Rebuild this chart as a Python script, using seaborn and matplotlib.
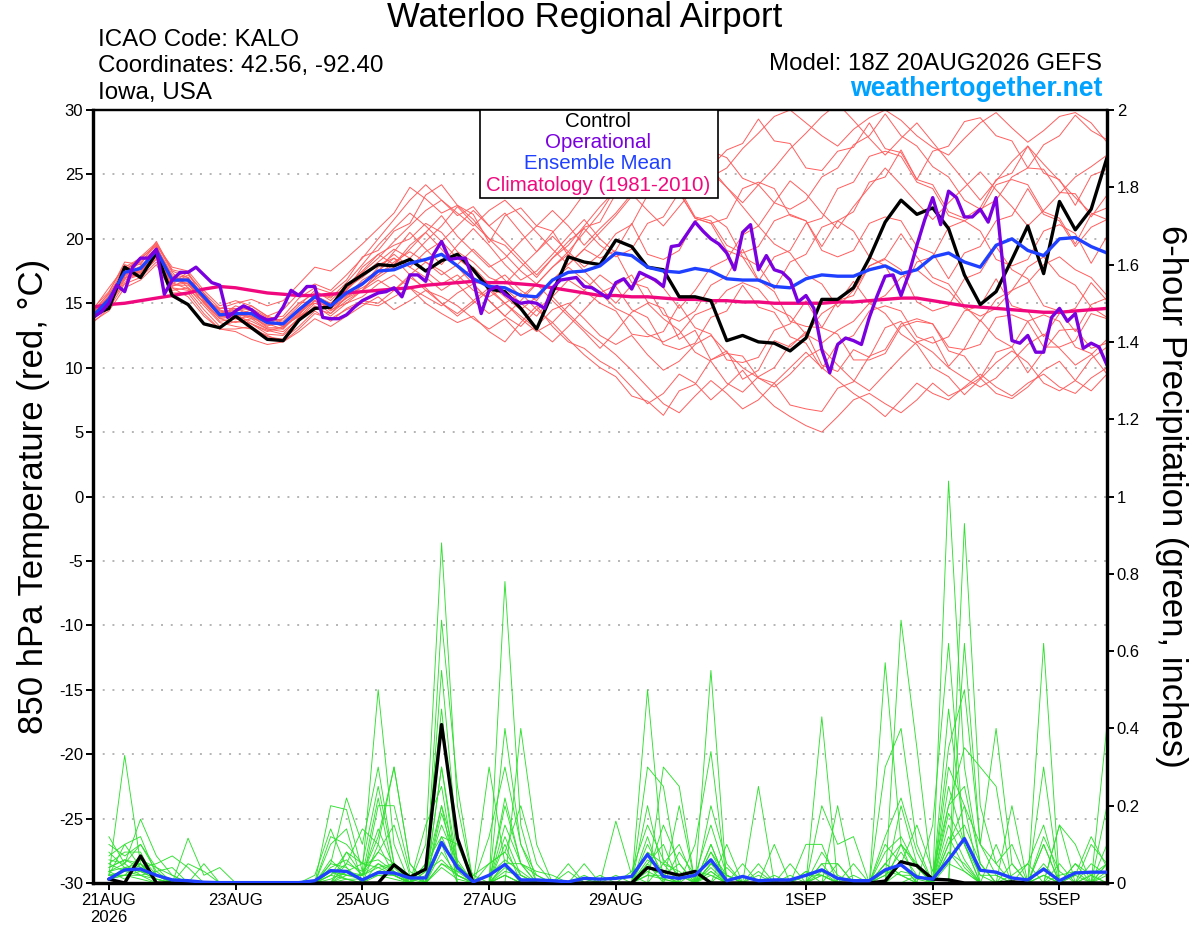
import numpy as np
import pandas as pd
import matplotlib
matplotlib.use("Agg")
import matplotlib.pyplot as plt
import seaborn as sns
from matplotlib.patches import Rectangle
from matplotlib.ticker import FuncFormatter

sns.set_theme(style="ticks")
plt.rcParams["font.family"] = ["Liberation Sans", "DejaVu Sans"]
plt.rcParams["axes.unicode_minus"] = False
plt.rcParams["text.color"] = "black"
plt.rcParams["axes.labelcolor"] = "black"

# ---------------- data ----------------
title = "Waterloo Regional Airport"
info_left = ["ICAO Code: KALO", "Coordinates: 42.56, -92.40", "Iowa, USA"]
info_model = "Model: 18Z 20AUG2026 GEFS"
site = "weathertogether.net"
legend_labels = ["Control", "Operational", "Ensemble Mean", "Climatology (1981-2010)"]

temp_times = pd.date_range("2026-08-20 18:00", periods=65, freq="6h")
oper_times = pd.date_range("2026-08-20 18:00", periods=129, freq="3h")
precip_times = pd.date_range("2026-08-21 00:00", periods=64, freq="6h")

tick_dates = ["2026-08-21", "2026-08-23", "2026-08-25", "2026-08-27",
              "2026-08-29", "2026-09-01", "2026-09-03", "2026-09-05"]
tick_labels = ["21AUG\n2026", "23AUG", "25AUG", "27AUG", "29AUG", "1SEP", "3SEP", "5SEP"]

control_temp = [14.1, 14.6, 17.8, 17.0, 18.9, 15.6, 14.9, 13.4, 13.1, 14.0,
                13.1, 12.2, 12.1, 13.7, 14.6, 14.7, 16.4, 17.2, 18.0, 17.9,
                18.4, 17.5, 18.3, 18.8, 17.6, 16.1, 15.9, 14.6, 13.0, 15.8,
                18.6, 18.2, 18.0, 19.9, 19.4, 17.8, 17.6, 15.5, 15.5, 15.2,
                12.1, 12.5, 12.0, 11.9, 11.3, 12.3, 15.3, 15.3, 16.2, 18.5,
                21.3, 23.0, 21.9, 22.4, 20.8, 17.2, 14.9, 15.9, 18.4, 21.0,
                17.3, 22.9, 20.7, 22.3, 26.3]

mean_temp = [14.0, 15.3, 17.4, 17.7, 19.1, 16.8, 16.8, 15.5, 14.1, 14.2,
             14.2, 13.5, 13.4, 14.5, 15.5, 14.8, 15.8, 16.5, 17.5, 17.6,
             18.1, 18.4, 18.8, 17.9, 16.9, 16.3, 16.2, 15.6, 15.5, 16.8,
             17.4, 17.5, 17.9, 18.9, 18.7, 17.8, 17.5, 17.4, 17.7, 17.5,
             16.9, 16.8, 16.8, 16.3, 16.2, 16.9, 17.2, 17.1, 17.1, 17.6,
             17.9, 17.3, 17.6, 18.6, 18.9, 18.2, 17.8, 19.5, 20.0, 19.1,
             18.7, 20.0, 20.1, 19.4, 18.9]

clim_temp = [14.7, 14.9, 15.0, 15.2, 15.4, 15.6, 15.8, 16.1, 16.3, 16.2,
             16.0, 15.8, 15.7, 15.6, 15.6, 15.7, 15.8, 15.9, 16.0, 16.1,
             16.2, 16.4, 16.5, 16.6, 16.7, 16.6, 16.6, 16.5, 16.4, 16.2,
             16.0, 15.8, 15.6, 15.6, 15.5, 15.5, 15.4, 15.3, 15.3, 15.2,
             15.2, 15.1, 15.1, 15.0, 15.0, 15.0, 15.0, 15.1, 15.1, 15.2,
             15.3, 15.4, 15.4, 15.2, 15.0, 14.8, 14.7, 14.6, 14.5, 14.4,
             14.3, 14.3, 14.4, 14.5, 14.6]

oper_temp = [13.9, 14.3, 15.0, 16.4, 15.9, 17.8, 18.5, 18.5, 19.2, 15.7,
             16.8, 17.4, 17.4, 17.8, 17.2, 16.6, 16.4, 13.9, 14.4, 14.8,
             14.5, 14.0, 13.7, 13.8, 14.7, 16.0, 15.6, 16.3, 16.3, 13.9,
             13.8, 13.8, 14.1, 14.7, 15.2, 15.5, 15.8, 15.9, 16.2, 15.5,
             17.2, 17.2, 16.7, 18.8, 19.8, 18.4, 18.5, 18.5, 16.8, 14.2,
             16.0, 16.3, 15.7, 15.3, 15.0, 15.1, 15.0, 14.6, 16.2, 16.8,
             16.9, 17.0, 16.3, 16.2, 15.8, 15.4, 16.6, 16.9, 16.1, 17.4,
             17.1, 16.8, 16.3, 19.4, 19.5, 20.4, 21.3, 20.6, 20.0, 19.6,
             18.9, 17.6, 20.5, 21.1, 17.6, 18.7, 17.6, 17.4, 16.8, 15.1,
             15.6, 14.6, 11.4, 9.6, 11.8, 12.3, 12.1, 11.8, 13.9, 15.6,
             17.1, 17.2, 15.6, 17.3, 19.5, 21.5, 23.2, 21.1, 23.7, 23.2,
             21.7, 21.7, 22.3, 21.3, 23.2, 17.0, 12.1, 11.9, 12.5, 11.2,
             11.2, 13.9, 14.6, 13.6, 14.2, 11.5, 11.9, 11.6, 10.2]

m01 = [14.3, 15.8, 18.2, 18.0, 19.8, 17.5, 17.0, 15.2, 14.6, 15.0, 15.3, 14.8, 15.2, 16.5, 17.8, 17.5, 18.5,
       19.6, 20.8, 22.0, 24.0, 23.1, 22.0, 22.6, 21.5, 20.0, 19.5, 18.2, 17.0, 18.5, 19.5, 21.0, 22.5,
       23.8, 25.0, 24.6, 26.2, 27.5, 26.0, 24.8, 25.5, 27.0, 28.2, 29.5, 30.0, 29.0, 28.0, 27.2, 28.5,
       29.4, 30.0, 29.2, 28.0, 27.1, 26.5, 27.8, 29.0, 29.8, 28.6, 27.5, 28.4, 29.5, 29.8, 29.0, 27.5]
m02 = [13.8, 14.8, 16.8, 17.2, 18.5, 16.0, 16.2, 14.8, 13.5, 13.2, 13.0, 12.5, 12.0, 13.0, 14.2, 13.8, 14.5,
       15.0, 14.8, 15.5, 16.2, 15.0, 14.2, 13.5, 14.0, 12.8, 12.0, 13.5, 14.8, 13.2, 12.0, 11.5, 10.5,
       9.8, 8.5, 7.2, 8.0, 9.5, 8.8, 7.5, 8.6, 9.8, 8.2, 7.0, 6.2, 5.5, 5.0, 6.2, 7.5,
       8.0, 7.2, 6.5, 7.5, 8.8, 7.8, 8.4, 9.2, 8.0, 7.6, 8.5, 9.8, 10.5, 9.0, 8.2, 9.5]
m03 = [14.5, 16.2, 17.8, 18.5, 19.5, 17.8, 17.5, 16.0, 14.8, 15.2, 14.8, 14.0, 14.5, 15.8, 16.5, 16.0, 17.2,
       18.5, 20.0, 21.5, 23.0, 24.2, 23.0, 21.8, 22.5, 21.0, 22.0, 20.5, 19.0, 20.5, 21.8, 23.5, 25.0,
       26.2, 27.5, 28.5, 27.0, 25.5, 26.8, 25.5, 24.0, 22.5, 21.0, 22.8, 24.5, 23.5, 22.0, 20.8, 22.5,
       24.0, 25.5, 24.2, 22.8, 21.5, 22.8, 24.0, 25.2, 23.8, 22.5, 21.0, 22.2, 23.5, 24.8, 25.6, 26.5]
m04 = [13.5, 14.6, 16.5, 17.0, 18.2, 16.2, 15.5, 14.0, 13.0, 12.8, 12.2, 11.8, 12.0, 12.8, 13.8, 13.2, 14.0,
       14.8, 15.5, 14.5, 15.2, 16.0, 15.5, 14.8, 13.8, 13.0, 13.8, 12.5, 13.2, 14.5, 15.0, 13.8, 12.5,
       11.8, 12.5, 11.0, 9.8, 10.5, 11.8, 12.5, 11.2, 10.0, 9.2, 8.5, 9.5, 10.8, 11.5, 10.2, 9.0,
       8.2, 9.5, 10.8, 12.0, 11.2, 10.0, 9.2, 8.5, 9.2, 10.5, 11.8, 12.6, 11.5, 10.2, 11.0, 12.2]
m05 = [14.2, 15.5, 17.0, 17.5, 19.0, 17.0, 16.5, 15.5, 14.5, 14.0, 14.5, 13.8, 13.2, 14.0, 15.8, 15.5, 16.2,
       17.0, 18.0, 18.5, 17.8, 19.0, 19.8, 18.5, 17.5, 16.5, 17.2, 16.0, 15.2, 16.8, 18.0, 19.2, 18.5,
       19.1, 21.2, 18.8, 18.4, 19.1, 21.4, 21.8, 20.9, 18.6, 17.9, 16.1, 18.2, 18.8, 20.9, 21.4, 20.6,
       18.6, 17.9, 15.8, 18.2, 18.6, 20.9, 21.4, 20.6, 18.4, 17.9, 18.4, 20.6, 21.1, 20.4, 18.1, 20.2]
m06 = [13.9, 15.0, 17.6, 18.2, 19.5, 16.5, 17.2, 15.8, 14.2, 14.6, 14.0, 13.2, 13.8, 15.0, 15.2, 14.2, 15.5,
       16.8, 17.5, 19.0, 20.5, 19.2, 18.0, 19.5, 20.8, 19.5, 18.0, 16.8, 17.5, 18.8, 20.2, 21.5, 20.0,
       18.9, 16.6, 16.2, 14.1, 13.6, 14.4, 16.4, 17.1, 19.2, 16.8, 15.9, 13.6, 13.2, 13.1, 15.2, 15.6,
       17.9, 18.4, 17.6, 15.1, 14.4, 14.8, 16.9, 17.4, 19.4, 17.6, 16.9, 14.8, 14.4, 12.8, 14.9, 15.4]
m07 = [14.4, 15.2, 17.2, 17.8, 19.2, 16.8, 16.5, 15.0, 13.8, 13.5, 13.8, 13.0, 12.8, 13.8, 15.0, 14.5, 15.0,
       16.0, 17.2, 18.0, 19.2, 20.5, 21.8, 20.2, 19.0, 17.8, 18.5, 19.8, 21.0, 22.2, 21.0, 19.5, 20.8,
       22.0, 23.5, 22.2, 21.0, 22.5, 24.0, 25.2, 24.0, 22.8, 24.2, 25.5, 27.0, 28.2, 29.5, 30.5, 29.2,
       27.8, 26.5, 27.8, 29.0, 27.5, 26.0, 24.5, 23.0, 24.5, 26.0, 27.2, 25.8, 24.5, 23.2, 22.0, 21.5]
m08 = [13.7, 15.0, 16.9, 17.4, 18.8, 16.2, 16.0, 14.5, 13.2, 13.6, 13.4, 12.6, 12.5, 13.6, 14.8, 14.0, 15.0,
       15.5, 16.5, 17.2, 16.2, 15.5, 14.8, 15.8, 16.5, 15.2, 14.0, 13.2, 14.5, 15.5, 14.2, 13.0, 12.0,
       11.0, 9.8, 8.5, 7.2, 6.5, 7.8, 9.0, 8.0, 6.8, 7.5, 8.8, 10.0, 11.2, 10.0, 9.0, 8.0,
       7.2, 6.2, 7.5, 8.8, 8.0, 7.5, 8.5, 9.5, 8.5, 7.8, 8.8, 9.5, 8.5, 8.0, 9.2, 10.0]
m09 = [14.1, 15.6, 17.9, 17.3, 19.4, 17.2, 17.0, 15.6, 14.4, 14.4, 14.8, 14.0, 13.6, 14.8, 16.0, 15.2, 16.4,
       17.5, 18.8, 19.5, 20.0, 21.2, 20.5, 19.0, 18.2, 17.0, 16.5, 17.8, 19.0, 20.2, 19.0, 17.8, 18.8,
       20.4, 21.1, 23.4, 24.1, 23.6, 21.6, 21.2, 21.6, 23.9, 24.4, 23.9, 21.8, 21.4, 19.4, 21.4, 22.1,
       24.4, 24.8, 26.9, 24.6, 24.2, 22.1, 21.6, 22.4, 24.6, 25.1, 27.2, 25.1, 24.6, 22.6, 24.9, 25.4]
m10 = [14.0, 15.1, 17.1, 17.9, 18.9, 16.6, 17.4, 15.2, 13.8, 14.0, 13.6, 13.0, 13.0, 14.2, 15.2, 14.6, 15.6,
       16.2, 17.0, 17.8, 18.5, 17.5, 16.5, 17.2, 16.0, 15.5, 16.2, 15.0, 14.0, 15.5, 16.8, 16.0, 15.0,
       14.4, 12.6, 12.4, 12.8, 14.9, 13.1, 12.6, 10.6, 10.4, 10.8, 12.9, 13.4, 15.2, 13.1, 12.6, 10.6,
       10.6, 11.1, 13.2, 13.6, 13.4, 11.6, 11.4, 11.8, 13.9, 14.1, 13.6, 11.6, 11.6, 12.1, 14.2, 13.8]
m11 = [14.3, 15.4, 17.6, 18.4, 19.6, 17.4, 16.2, 15.4, 14.0, 14.8, 14.4, 13.6, 13.2, 14.2, 15.6, 15.0, 16.0,
       17.2, 18.2, 19.2, 18.5, 19.8, 21.0, 22.5, 21.2, 20.0, 18.8, 17.5, 16.5, 17.8, 19.0, 20.5, 22.0,
       23.9, 24.5, 26.3, 24.6, 23.9, 21.7, 21.4, 19.5, 18.9, 19.4, 21.4, 21.9, 21.4, 19.1, 18.6, 19.1,
       21.2, 21.7, 21.4, 19.4, 18.9, 16.9, 18.9, 19.4, 21.4, 21.8, 23.9, 21.9, 21.4, 19.4, 20.9, 21.5]
m12 = [13.8, 15.2, 17.3, 17.6, 18.6, 16.4, 16.6, 15.0, 13.6, 13.8, 14.0, 13.4, 13.0, 14.4, 15.4, 14.4, 15.4,
       16.0, 16.8, 16.0, 17.2, 18.2, 17.5, 16.5, 15.2, 14.2, 15.0, 15.8, 14.5, 13.5, 14.8, 16.0, 17.2,
       16.3, 14.5, 13.9, 11.8, 11.4, 11.9, 13.9, 14.4, 16.4, 14.7, 14.3, 12.4, 11.9, 9.9, 11.9, 12.5,
       14.4, 14.8, 14.4, 12.4, 11.9, 12.4, 14.4, 14.8, 16.9, 14.8, 14.4, 12.4, 14.2, 14.6, 16.6, 15.2]
m13 = [14.6, 15.9, 18.0, 17.6, 19.3, 17.0, 16.8, 15.6, 14.2, 14.2, 13.8, 13.6, 13.8, 15.0, 15.8, 15.4, 16.6,
       18.0, 19.5, 20.8, 22.0, 21.0, 19.8, 21.0, 22.2, 21.0, 19.8, 18.5, 17.2, 18.5, 19.8, 20.8, 19.5,
       18.6, 19.2, 21.2, 21.7, 23.6, 21.6, 21.2, 19.1, 18.6, 16.7, 18.6, 19.1, 21.2, 21.6, 23.9, 24.4,
       26.4, 26.8, 26.4, 24.4, 23.9, 21.8, 21.4, 22.1, 24.2, 24.6, 24.2, 22.1, 21.6, 19.6, 21.9, 22.4]
m14 = [13.6, 14.4, 16.2, 16.8, 18.0, 15.8, 15.8, 14.2, 13.0, 13.0, 13.2, 12.4, 12.2, 13.2, 14.4, 13.6, 14.6,
       15.2, 15.0, 16.0, 17.0, 16.2, 15.0, 14.2, 15.2, 16.2, 15.0, 14.0, 13.0, 12.0, 13.2, 14.5, 15.8,
       16.4, 17.2, 15.1, 14.6, 12.2, 12.9, 10.6, 11.3, 9.1, 9.8, 12.1, 11.6, 12.8, 10.2, 9.7, 11.4,
       10.8, 13.1, 13.6, 12.0, 12.4, 10.1, 11.5, 13.7, 12.3, 11.6, 9.6, 11.3, 12.9, 13.0, 11.5, 11.9]
m15 = [14.2, 15.0, 17.0, 17.2, 18.4, 16.4, 16.4, 15.4, 14.0, 13.8, 13.4, 12.8, 13.2, 14.0, 14.6, 14.2, 15.2,
       16.0, 17.5, 18.5, 17.2, 16.0, 15.0, 14.0, 15.0, 16.0, 15.0, 13.8, 12.8, 13.5, 12.2, 11.0, 10.0,
       9.3, 7.8, 7.4, 6.3, 8.2, 8.7, 10.6, 11.1, 10.9, 9.2, 8.8, 7.1, 6.8, 6.6, 8.4, 8.9,
       10.9, 11.4, 13.4, 13.8, 13.4, 11.3, 10.9, 9.2, 11.2, 11.6, 13.6, 14.1, 13.6, 11.6, 11.1, 9.5]
m16 = [14.4, 15.7, 17.5, 18.6, 19.7, 17.6, 17.3, 15.8, 14.6, 14.6, 14.2, 13.8, 14.0, 15.4, 16.2, 15.8, 16.8,
       18.6, 19.1, 20.6, 21.2, 23.4, 24.2, 22.6, 21.9, 19.7, 21.8, 22.4, 21.0, 20.6, 18.7, 20.9, 21.3,
       23.5, 23.9, 25.8, 26.1, 28.3, 26.0, 25.6, 26.9, 27.4, 29.3, 27.6, 27.4, 25.5, 25.3, 26.8, 27.1,
       29.0, 27.0, 26.7, 24.6, 26.8, 27.2, 29.1, 29.4, 28.0, 27.6, 25.5, 25.4, 23.6, 23.5, 21.7, 23.4]
m17 = [14.0, 15.3, 17.7, 17.4, 18.7, 16.9, 16.9, 15.3, 14.3, 14.3, 13.9, 13.3, 13.4, 14.6, 15.0, 14.8, 15.8,
       16.6, 17.2, 18.2, 19.0, 18.2, 17.2, 18.0, 19.2, 18.0, 16.8, 15.5, 16.5, 17.8, 18.8, 17.5, 16.2,
       15.0, 16.4, 17.1, 16.2, 14.6, 16.0, 17.8, 18.4, 20.3, 21.0, 19.6, 18.9, 17.2, 16.5, 14.7, 16.0,
       17.9, 18.5, 20.4, 18.6, 17.0, 16.5, 14.8, 13.6, 15.3, 16.0, 17.8, 18.6, 17.1, 16.4, 14.7, 13.9]
m18 = [14.1, 14.9, 16.6, 17.7, 19.1, 16.3, 16.9, 15.2, 14.4, 14.2, 13.4, 12.9, 12.6, 13.9, 15.2, 15.0, 16.0,
       17.8, 18.8, 18.0, 19.5, 20.5, 19.2, 17.8, 16.5, 15.2, 14.0, 15.2, 16.5, 15.2, 14.0, 12.8, 11.5,
       12.8, 14.3, 15.0, 13.8, 12.9, 11.2, 10.5, 8.8, 8.1, 9.3, 10.0, 11.8, 12.6, 14.2, 15.0, 16.7,
       15.0, 14.2, 12.6, 11.8, 10.0, 9.3, 7.9, 9.1, 10.4, 11.3, 10.4, 8.8, 8.2, 9.0, 10.7, 11.6]
m19 = [14.3, 15.5, 17.4, 18.1, 19.3, 17.1, 16.7, 15.7, 14.1, 14.5, 14.6, 13.9, 13.5, 14.3, 15.6, 14.9, 16.1,
       17.4, 18.5, 19.8, 21.0, 22.2, 23.0, 22.0, 21.0, 22.2, 23.0, 21.8, 20.5, 19.2, 18.0, 19.2, 20.5,
       21.8, 23.3, 24.0, 25.8, 26.5, 28.2, 26.8, 26.3, 24.7, 24.2, 22.8, 22.3, 23.0, 24.8, 25.5, 27.3,
       28.0, 29.7, 28.0, 27.2, 25.6, 24.8, 23.0, 22.3, 23.0, 24.8, 25.5, 27.3, 28.0, 29.6, 28.4, 27.7]
m20 = [13.9, 15.0, 17.2, 17.1, 18.7, 16.6, 16.1, 15.1, 13.9, 14.1, 14.0, 13.1, 13.1, 14.1, 15.4, 14.6, 15.4,
       16.4, 17.8, 18.8, 17.8, 17.0, 16.0, 16.8, 17.8, 16.5, 15.5, 14.5, 15.5, 16.8, 17.8, 16.8, 15.8,
       14.6, 14.0, 12.6, 12.0, 12.6, 14.1, 14.6, 16.0, 16.6, 16.1, 14.6, 14.0, 12.6, 11.9, 12.9, 13.6,
       15.0, 15.6, 17.0, 17.6, 16.6, 16.0, 14.6, 14.0, 14.6, 16.0, 16.6, 18.0, 18.6, 17.6, 17.0, 15.6]
ens_temp = [m01, m02, m03, m04, m05, m06, m07, m08, m09, m10,
            m11, m12, m13, m14, m15, m16, m17, m18, m19, m20]

control_precip = [0.01, 0, 0.07, 0, 0, 0, 0, 0,
                  0, 0, 0, 0, 0, 0, 0, 0,
                  0, 0, 0.047, 0.015, 0.036, 0.41, 0.116, 0,
                  0, 0, 0, 0, 0, 0, 0, 0,
                  0, 0, 0.04, 0.03, 0.02, 0.03, 0, 0,
                  0, 0, 0, 0, 0, 0, 0, 0,
                  0, 0.005, 0.055, 0.045, 0.01, 0.008, 0, 0,
                  0, 0.003, 0, 0, 0, 0, 0, 0]
mean_precip = [0.01, 0.034, 0.036, 0.02, 0.008, 0.006, 0.002, 0.001,
               0.001, 0.001, 0.001, 0.001, 0.001, 0.006, 0.032, 0.03,
               0.008, 0.027, 0.026, 0.013, 0.013, 0.105, 0.04, 0.003,
               0.02, 0.048, 0.008, 0.008, 0.006, 0.003, 0.012, 0.01,
               0.012, 0.017, 0.074, 0.017, 0.012, 0.02, 0.06, 0.006,
               0.017, 0.006, 0.008, 0.008, 0.02, 0.034, 0.012, 0.006,
               0.006, 0.034, 0.047, 0.015, 0.01, 0.06, 0.115, 0.033,
               0.028, 0.013, 0.008, 0.036, 0.006, 0.026, 0.028, 0.028]

p01 = [0.02, 0.33, 0.05, 0, 0, 0, 0, 0, 0, 0, 0, 0, 0, 0, 0.03, 0.01,
       0, 0.05, 0.02, 0, 0.1, 0.88, 0.2, 0, 0, 0.02, 0, 0, 0, 0, 0, 0,
       0, 0, 0.1, 0.02, 0, 0, 0, 0.04, 0, 0, 0, 0, 0, 0.05, 0, 0,
       0, 0, 0.1, 0.04, 0, 1.04, 0.3, 0.05, 0, 0, 0, 0.02, 0, 0, 0, 0]
p02 = [0.12, 0.05, 0.165, 0.07, 0.02, 0, 0, 0, 0, 0, 0, 0, 0, 0, 0.2, 0.19,
       0.03, 0.5, 0.1, 0, 0.05, 0.45, 0.05, 0, 0, 0.78, 0.15, 0, 0, 0, 0, 0.02,
       0, 0, 0.5, 0.05, 0, 0, 0, 0.1, 0, 0, 0, 0, 0.03, 0, 0, 0,
       0, 0, 0, 0, 0, 0, 0.93, 0.2, 0.05, 0, 0, 0, 0, 0, 0, 0]
p03 = [0.07, 0.1, 0.12, 0.02, 0, 0.116, 0.02, 0.04, 0, 0, 0, 0, 0, 0, 0, 0.05,
       0.14, 0.1, 0.3, 0.05, 0, 0.68, 0.25, 0, 0, 0, 0.4, 0.1, 0, 0, 0, 0,
       0, 0, 0, 0.3, 0.25, 0, 0.55, 0, 0, 0, 0, 0, 0, 0.43, 0, 0,
       0, 0, 0, 0.02, 0, 0, 0, 0, 0, 0, 0, 0.62, 0, 0, 0, 0.2]
p04 = [0.05, 0.08, 0.08, 0, 0, 0, 0.05, 0, 0, 0, 0, 0, 0, 0, 0.1, 0.14,
       0, 0.2, 0.2, 0.03, 0, 0.55, 0.1, 0, 0.3, 0.05, 0, 0, 0, 0.05, 0, 0,
       0, 0, 0, 0, 0, 0.1, 0.34, 0, 0, 0, 0, 0, 0, 0, 0.2, 0,
       0, 0.57, 0.1, 0, 0, 0, 0.62, 0.1, 0.4, 0.05, 0, 0, 0, 0, 0, 0]
p05 = [0.04, 0.06, 0.04, 0.05, 0.07, 0.04, 0, 0, 0, 0, 0, 0, 0, 0.02, 0.14, 0.04,
       0, 0.03, 0.05, 0.02, 0, 0.3, 0.05, 0, 0, 0.4, 0.1, 0.02, 0, 0, 0, 0,
       0.16, 0.02, 0, 0, 0.2, 0, 0, 0, 0, 0.25, 0, 0, 0, 0, 0, 0,
       0, 0, 0.68, 0.35, 0, 0, 0, 0, 0, 0.2, 0, 0, 0, 0, 0, 0.41]
p06 = [0.03, 0.04, 0.03, 0.02, 0, 0, 0, 0, 0, 0, 0, 0, 0, 0, 0.05, 0.22,
       0.1, 0.3, 0.05, 0, 0.15, 0.25, 0, 0, 0, 0.15, 0.05, 0, 0, 0.03, 0, 0,
       0, 0, 0.3, 0.25, 0, 0, 0.1, 0, 0, 0, 0.1, 0, 0, 0, 0.05, 0,
       0, 0, 0, 0, 0.15, 0.62, 0.1, 0, 0, 0, 0, 0, 0.15, 0.1, 0, 0]
p07 = [0.02, 0.02, 0.06, 0.04, 0.02, 0, 0, 0, 0, 0, 0, 0, 0, 0, 0, 0.08,
       0.05, 0.25, 0.05, 0, 0, 0.18, 0.05, 0, 0.12, 0.3, 0.1, 0, 0, 0, 0.05, 0,
       0, 0, 0.12, 0, 0, 0, 0.2, 0.05, 0, 0, 0, 0, 0.1, 0.1, 0, 0,
       0, 0.3, 0.4, 0.1, 0, 0.2, 0.35, 0.3, 0.25, 0, 0, 0.1, 0, 0, 0, 0]
p08 = [0.1, 0.07, 0.1, 0.03, 0, 0, 0, 0, 0, 0, 0, 0, 0, 0, 0.03, 0.02,
       0.02, 0.14, 0.04, 0, 0.05, 0.12, 0.1, 0.02, 0, 0.05, 0, 0, 0, 0, 0.02, 0,
       0, 0, 0, 0.05, 0.1, 0, 0.05, 0.02, 0, 0, 0, 0, 0, 0.2, 0.1, 0.12,
       0, 0.1, 0.05, 0, 0, 0.3, 0.2, 0, 0.1, 0, 0.05, 0, 0.15, 0, 0, 0.05]
p09 = [0.06, 0.05, 0.02, 0.03, 0.04, 0, 0, 0, 0, 0, 0, 0, 0, 0, 0.05, 0.04,
       0, 0.1, 0.02, 0, 0.03, 0.2, 0, 0, 0, 0.2, 0.05, 0.03, 0.02, 0, 0, 0,
       0, 0, 0.08, 0.05, 0.03, 0, 0.05, 0, 0.05, 0, 0, 0, 0, 0, 0, 0,
       0, 0, 0.2, 0.05, 0, 0.25, 0.1, 0, 0, 0, 0, 0.1, 0, 0.05, 0, 0]
p10 = [0.03, 0.01, 0.05, 0, 0, 0, 0, 0, 0, 0, 0, 0, 0, 0, 0.12, 0.1,
       0.05, 0.06, 0.03, 0, 0, 0.1, 0, 0, 0, 0.1, 0, 0, 0, 0, 0, 0,
       0, 0, 0.05, 0.1, 0, 0, 0.08, 0, 0, 0, 0, 0, 0, 0, 0, 0,
       0, 0.05, 0.1, 0.05, 0, 0.1, 0.15, 0.05, 0, 0, 0, 0.3, 0, 0, 0, 0.1]
p11 = [0.01, 0.02, 0.01, 0, 0, 0, 0, 0, 0, 0, 0, 0, 0, 0, 0, 0.02,
       0.01, 0.02, 0.01, 0, 0, 0.05, 0.02, 0, 0, 0.02, 0, 0, 0, 0, 0, 0,
       0, 0, 0.03, 0.01, 0, 0, 0.02, 0, 0, 0, 0, 0, 0, 0.02, 0, 0,
       0, 0.03, 0.02, 0, 0, 0.05, 0.03, 0, 0, 0, 0, 0.02, 0, 0, 0.02, 0]
p12 = [0.02, 0.03, 0.02, 0.01, 0, 0, 0, 0, 0, 0, 0, 0, 0, 0, 0.02, 0.05,
       0.03, 0.08, 0.15, 0.02, 0, 0.08, 0.02, 0, 0.05, 0.08, 0.2, 0.05, 0, 0, 0, 0,
       0, 0, 0, 0, 0, 0, 0.05, 0.02, 0, 0.05, 0, 0, 0, 0, 0, 0.02,
       0, 0.02, 0.05, 0, 0, 0.1, 0.2, 0.1, 0.05, 0.1, 0, 0, 0.05, 0, 0.1, 0.05]
p13 = [0.01, 0.04, 0.03, 0.01, 0, 0, 0, 0, 0, 0, 0, 0, 0, 0, 0, 0.03,
       0.02, 0.04, 0.05, 0, 0, 0.04, 0.01, 0, 0, 0.03, 0.02, 0, 0, 0, 0, 0,
       0, 0, 0.02, 0.02, 0.05, 0, 0.03, 0, 0, 0, 0, 0, 0, 0, 0, 0,
       0, 0, 0.03, 0.02, 0, 0.08, 0.05, 0, 0, 0, 0, 0, 0, 0, 0, 0.03]
p14 = [0.02, 0.1, 0.04, 0.02, 0.01, 0, 0, 0, 0, 0, 0, 0, 0, 0, 0.04, 0.06,
       0.02, 0.22, 0.02, 0, 0.02, 0.15, 0.05, 0, 0.02, 0.06, 0.03, 0, 0, 0, 0, 0,
       0, 0.03, 0.15, 0.06, 0.02, 0, 0.1, 0, 0, 0, 0.02, 0, 0, 0.08, 0.02, 0,
       0, 0.12, 0.22, 0.08, 0, 0.45, 0.12, 0.02, 0.02, 0, 0, 0.12, 0.03, 0, 0.05, 0.02]
p15 = [0.01, 0.02, 0.02, 0, 0, 0.05, 0.03, 0, 0, 0, 0, 0, 0, 0, 0.02, 0.08,
       0.02, 0.12, 0.3, 0.05, 0, 0.1, 0.05, 0, 0, 0.05, 0.05, 0.02, 0, 0, 0, 0,
       0, 0, 0.05, 0, 0.08, 0.02, 0.15, 0.02, 0, 0.03, 0, 0.05, 0, 0.05, 0.05, 0,
       0, 0, 0.05, 0.15, 0.03, 0.2, 0.25, 0.05, 0, 0.05, 0, 0, 0.02, 0.03, 0, 0]
p16 = [0.05, 0.03, 0.07, 0.02, 0, 0, 0, 0, 0, 0, 0, 0, 0, 0, 0.01, 0.03,
       0.05, 0.04, 0.02, 0, 0, 0.2, 0.06, 0, 0, 0.12, 0.02, 0, 0, 0, 0, 0,
       0, 0, 0.02, 0.15, 0.05, 0, 0.05, 0.02, 0, 0, 0, 0, 0.02, 0.02, 0, 0,
       0, 0.05, 0.02, 0.02, 0, 0.35, 0.5, 0.1, 0.02, 0, 0, 0, 0, 0.05, 0.02, 0.05]
p17 = [0.03, 0.05, 0.1, 0.04, 0, 0, 0, 0, 0, 0, 0, 0, 0, 0, 0.06, 0.02,
       0.02, 0.08, 0.05, 0.01, 0, 0.3, 0.02, 0, 0, 0.22, 0.05, 0, 0, 0, 0.01, 0,
       0.02, 0, 0.2, 0.02, 0, 0, 0.04, 0, 0, 0, 0, 0.02, 0, 0, 0, 0,
       0, 0.05, 0.02, 0, 0, 0.15, 0.06, 0, 0, 0.02, 0.05, 0.15, 0, 0, 0.02, 0]
p18 = [0.08, 0.04, 0.05, 0.01, 0, 0, 0, 0, 0, 0, 0, 0, 0, 0, 0.02, 0.01,
       0, 0.02, 0.02, 0, 0.03, 0.06, 0.02, 0, 0, 0.02, 0, 0, 0, 0, 0, 0,
       0, 0, 0.04, 0.02, 0, 0.03, 0.02, 0, 0, 0.02, 0, 0, 0.03, 0.02, 0, 0.05,
       0, 0.02, 0.08, 0.02, 0, 0.12, 0.04, 0, 0, 0, 0, 0.05, 0, 0.02, 0.12, 0.04]
p19 = [0.02, 0.02, 0.03, 0.01, 0, 0, 0, 0, 0, 0, 0, 0, 0, 0, 0, 0.01,
       0.01, 0.03, 0.02, 0, 0, 0.12, 0.03, 0, 0, 0.04, 0.01, 0, 0, 0, 0, 0,
       0, 0, 0.02, 0.01, 0, 0, 0.03, 0, 0, 0, 0, 0, 0, 0.03, 0, 0,
       0, 0.03, 0.05, 0.01, 0, 0.08, 0.03, 0, 0, 0, 0, 0.04, 0, 0, 0, 0.02]
p20 = [0.04, 0.06, 0.05, 0.02, 0, 0, 0, 0, 0, 0, 0, 0, 0, 0, 0.03, 0.02,
       0.02, 0.05, 0.03, 0, 0, 0.05, 0.03, 0.02, 0.05, 0.08, 0.02, 0, 0, 0, 0, 0,
       0, 0, 0.06, 0.03, 0.02, 0, 0.08, 0.02, 0, 0, 0, 0, 0, 0.02, 0, 0,
       0, 0.08, 0.12, 0.04, 0, 0.18, 0.1, 0.02, 0, 0, 0, 0.02, 0, 0.02, 0, 0.05]
ens_precip = [p01, p02, p03, p04, p05, p06, p07, p08, p09, p10,
              p11, p12, p13, p14, p15, p16, p17, p18, p19, p20]

for k, v in enumerate(ens_temp):
    assert len(v) == 65, ("temp", k + 1, len(v))
for k, v in enumerate(ens_precip):
    assert len(v) == 64, ("precip", k + 1, len(v))

# ---------------- styles ----------------
RED = "#ff5e5e"
GREEN = "#2fe02f"
PURPLE = "#7a00e0"
BLUE = "#2040ff"
PINK = "#f0087f"
SITE_BLUE = "#00a2ff"

df_t = pd.DataFrame({
    "time": np.tile(temp_times, len(ens_temp)),
    "temp": np.concatenate(ens_temp),
    "member": np.repeat(np.arange(len(ens_temp)), len(temp_times)),
})
df_p = pd.DataFrame({
    "time": np.tile(precip_times, len(ens_precip)),
    "precip": np.concatenate(ens_precip),
    "member": np.repeat(np.arange(len(ens_precip)), len(precip_times)),
})

fig = plt.figure(figsize=(12, 9.27), dpi=100)
ax = fig.add_axes([93 / 1200, 1 - 883 / 927, (1107 - 93) / 1200, (883 - 110) / 927])

sns.lineplot(data=df_t, x="time", y="temp", units="member", estimator=None,
             color=RED, lw=0.7, ax=ax, legend=False, zorder=2)
sns.lineplot(x=temp_times, y=clim_temp, color=PINK, lw=2.4, ax=ax, zorder=3)
sns.lineplot(x=temp_times, y=control_temp, color="black", lw=2.4, ax=ax, zorder=4)
sns.lineplot(x=temp_times, y=mean_temp, color=BLUE, lw=2.4, ax=ax, zorder=5)
sns.lineplot(x=oper_times, y=oper_temp, color=PURPLE, lw=2.4, ax=ax, zorder=6)

ax.set_ylim(-30, 30)
ax.set_yticks(np.arange(-30, 31, 5))
ax.set_xlim(pd.Timestamp("2026-08-20 18:00"), pd.Timestamp("2026-09-05 18:00"))
ax.set_xticks(pd.to_datetime(tick_dates))
ax.set_xticklabels(tick_labels)
ax.grid(axis="y", color="#b4b4b4", lw=1.4, ls=(0, (1, 4)))
ax.grid(axis="x", visible=False)
ax.set_xlabel("")
ax.set_ylabel("850 hPa Temperature (red, °C)", fontsize=25, va="center", ha="center")
ax.yaxis.set_label_coords(-0.059, 0.5)

ax2 = ax.twinx()
sns.lineplot(data=df_p, x="time", y="precip", units="member", estimator=None,
             color=GREEN, lw=0.65, ax=ax2, legend=False, zorder=2)
sns.lineplot(x=precip_times, y=control_precip, color="black", lw=2.4, ax=ax2, zorder=4)
sns.lineplot(x=precip_times, y=mean_precip, color=BLUE, lw=2.4, ax=ax2, zorder=5)
ax2.set_ylim(0, 2)
ax2.set_yticks(np.arange(0, 2.01, 0.2))
ax2.yaxis.set_major_formatter(FuncFormatter(lambda v, p: "%g" % round(v, 1)))
ax2.set_xlim(pd.Timestamp("2026-08-20 18:00"), pd.Timestamp("2026-09-05 18:00"))
ax2.set_xlabel("")
ax2.set_ylabel("6-hour Precipitation (green, inches)", fontsize=25, rotation=270,
               va="center", ha="center")
ax2.yaxis.set_label_coords(1.064, 0.5)
ax2.grid(False)

for a in (ax, ax2):
    for name, s in a.spines.items():
        s.set_color("black")
        s.set_linewidth(1.6 if name == "top" else 2.3)
        s.set_visible(True)
    a.tick_params(axis="both", which="major", direction="out", length=5, width=1.4,
                  color="black", labelsize=12, labelcolor="black", pad=2)
ax.tick_params(axis="y", left=True, right=False)
ax.tick_params(axis="x", bottom=True)
ax2.tick_params(axis="y", right=True, left=False)

# legend box (top centre, inside plot)
lx0, lx1 = (480 - 93) / 1014, (718 - 93) / 1014
ly0 = (883 - 198) / 773
ax2.add_patch(Rectangle((lx0, ly0), lx1 - lx0, 1 - ly0, transform=ax2.transAxes,
                        facecolor="white", edgecolor="black", lw=1.2, zorder=20,
                        clip_on=False))
leg_colors = ["black", PURPLE, BLUE, PINK]
leg_y = [121, 142, 163, 185]
for lab, col, yy in zip(legend_labels, leg_colors, leg_y):
    ax2.text((598 - 93) / 1014, (883 - yy) / 773, lab, color=col, fontsize=14.8,
             ha="center", va="center", transform=ax2.transAxes, zorder=21)

# header texts
fig.text(585 / 1200, 1 - 18 / 927, title, fontsize=25, ha="center", va="center",
         color="black")
for txt, yy in zip(info_left, [40, 66, 93]):
    fig.text(98 / 1200, 1 - yy / 927, txt, fontsize=17.4, ha="left", va="center",
             color="black")
fig.text(1102 / 1200, 1 - 64 / 927, info_model, fontsize=17.4, ha="right", va="center",
         color="black")
fig.text(1102 / 1200, 1 - 89 / 927, site, fontsize=19.2, ha="right", va="center",
         color=SITE_BLUE, fontweight="bold")

fig.savefig("out.png", dpi=100)
